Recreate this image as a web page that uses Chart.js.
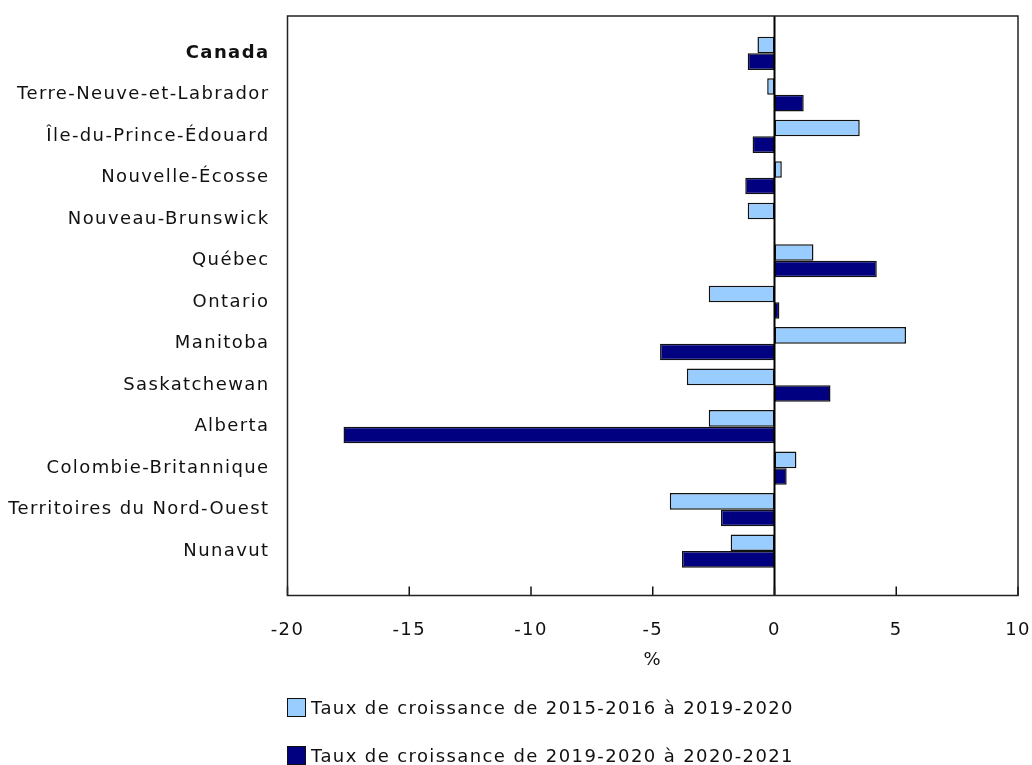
<!DOCTYPE html>
<html>
<head>
<meta charset="utf-8">
<script src="https://cdn.jsdelivr.net/npm/chart.js@4/dist/chart.umd.min.js"></script>
<style>
  html, body { margin: 0; padding: 0; background: #fff; }
  #wrap { position: relative; width: 1032px; height: 765px; }
  canvas { position: absolute; left: 0; top: 0; }
  .leg { position: absolute; left: 287px; height: 20px; font-family: "DejaVu Sans", Verdana, sans-serif; font-size: 18px; letter-spacing: 1.4px; color: #111; display: flex; align-items: center; white-space: nowrap; }
  .leg .box { width: 17px; height: 17px; border: 1.5px solid #111; margin-right: 5px; box-sizing: content-box; flex: none; }
</style>
</head>
<body>
<div id="wrap">
  <canvas id="c" width="1032" height="765"></canvas>
</div>
<script>
const categories = ["Canada", "Terre-Neuve-et-Labrador", "Île-du-Prince-Édouard", "Nouvelle-Écosse",
  "Nouveau-Brunswick", "Québec", "Ontario", "Manitoba", "Saskatchewan", "Alberta",
  "Colombie-Britannique", "Territoires du Nord-Ouest", "Nunavut"];
const seriesNames = ["Taux de croissance de 2015-2016 à 2019-2020", "Taux de croissance de 2019-2020 à 2020-2021"];
const growth2016to2020 = [-0.7, -0.3, 3.5, 0.3, -1.1, 1.6, -2.7, 5.4, -3.6, -2.7, 0.9, -4.3, -1.8];
const growth2020to2021 = [-1.1, 1.2, -0.9, -1.2, 0.0, 4.2, 0.2, -4.7, 2.3, -17.7, 0.5, -2.2, -3.8];
const xTicks = [-20, -15, -10, -5, 0, 5, 10];
const seriesColors = ["#99CCFF", "#000080"];

const FONT = '"DejaVu Sans", Verdana, sans-serif';
const LETTER_SPACING = '1.4px';

// HTML legend built from the series arrays
const legendTops = [697, 745];
seriesNames.forEach((name, i) => {
  const d = document.createElement('div');
  d.className = 'leg';
  d.style.top = legendTops[i] + 'px';
  const b = document.createElement('span');
  b.className = 'box';
  b.style.background = seriesColors[i];
  const t = document.createElement('span');
  t.textContent = name;
  d.appendChild(b); d.appendChild(t);
  document.getElementById('wrap').appendChild(d);
});

const toPoints = arr => arr.map((v, i) => ({ x: v, y: i }));

const spacingPlugin = {
  id: 'spacing',
  beforeInit(chart) { chart.ctx.letterSpacing = LETTER_SPACING; },
  beforeLayout(chart) { chart.ctx.letterSpacing = LETTER_SPACING; },
  beforeDraw(chart) { chart.ctx.letterSpacing = LETTER_SPACING; }
};

const framePlugin = {
  id: 'frame',
  afterDatasetsDraw(chart) {
    const { ctx, chartArea: a, scales } = chart;
    const xs = scales.x;
    ctx.save();
    const x0 = xs.getPixelForValue(0);
    ctx.strokeStyle = '#000';
    ctx.lineWidth = 2;
    ctx.beginPath();
    ctx.moveTo(x0, a.top);
    ctx.lineTo(x0, a.bottom);
    ctx.stroke();
    ctx.lineWidth = 1.5;
    ctx.strokeStyle = '#111';
    xTicks.forEach(v => {
      const px = xs.getPixelForValue(v);
      ctx.beginPath();
      ctx.moveTo(px, a.bottom);
      ctx.lineTo(px, a.bottom - 9);
      ctx.stroke();
    });
    ctx.strokeStyle = '#222';
    ctx.lineWidth = 1.5;
    ctx.strokeRect(a.left, a.top, a.right - a.left, a.bottom - a.top);
    ctx.restore();
  }
};

new Chart(document.getElementById('c'), {
  type: 'bar',
  data: {
    datasets: [
      { label: seriesNames[0], data: toPoints(growth2016to2020), backgroundColor: seriesColors[0], borderColor: '#111', borderWidth: 1.5, borderSkipped: false },
      { label: seriesNames[1], data: toPoints(growth2020to2021), backgroundColor: seriesColors[1], borderColor: '#111', borderWidth: 1.5, borderSkipped: false }
    ]
  },
  options: {
    indexAxis: 'y',
    responsive: false,
    animation: false,
    devicePixelRatio: 1,
    layout: { padding: { top: 16, right: 14, bottom: 94.2, left: 0 } },
    datasets: { bar: { categoryPercentage: 0.8, barPercentage: 1.0 } },
    plugins: { legend: { display: false }, tooltip: { enabled: false } },
    scales: {
      x: {
        type: 'linear',
        min: -20, max: 10,
        grid: { display: false, drawTicks: false },
        border: { display: false },
        afterBuildTicks: s => { s.ticks = xTicks.map(v => ({ value: v })); },
        afterFit: s => { s.height = 75.3; s.paddingLeft = 0; s.paddingRight = 0; },
        ticks: { color: '#111', font: { family: FONT, size: 18 }, padding: 24, maxRotation: 0, autoSkip: false },
        title: { display: true, text: '%', color: '#111', font: { family: FONT, size: 18 }, padding: 0 }
      },
      y: {
        type: 'linear',
        reverse: true,
        offset: false,
        min: -0.9, max: 13.07,
        grid: { display: false, drawTicks: false },
        border: { display: false },
        afterBuildTicks: s => { s.ticks = categories.map((c, i) => ({ value: i })); },
        afterFit: s => { s.width = 287.5; s.paddingTop = 0; s.paddingBottom = 0; },
        ticks: {
          autoSkip: false,
          padding: 18,
          color: '#111',
          callback: v => categories[v] !== undefined ? categories[v] : '',
          font: c => ({ family: FONT, size: 18, weight: (c.tick && c.tick.value === 0) ? 'bold' : 'normal' })
        }
      }
    }
  },
  plugins: [spacingPlugin, framePlugin]
});
</script>
</body>
</html>
